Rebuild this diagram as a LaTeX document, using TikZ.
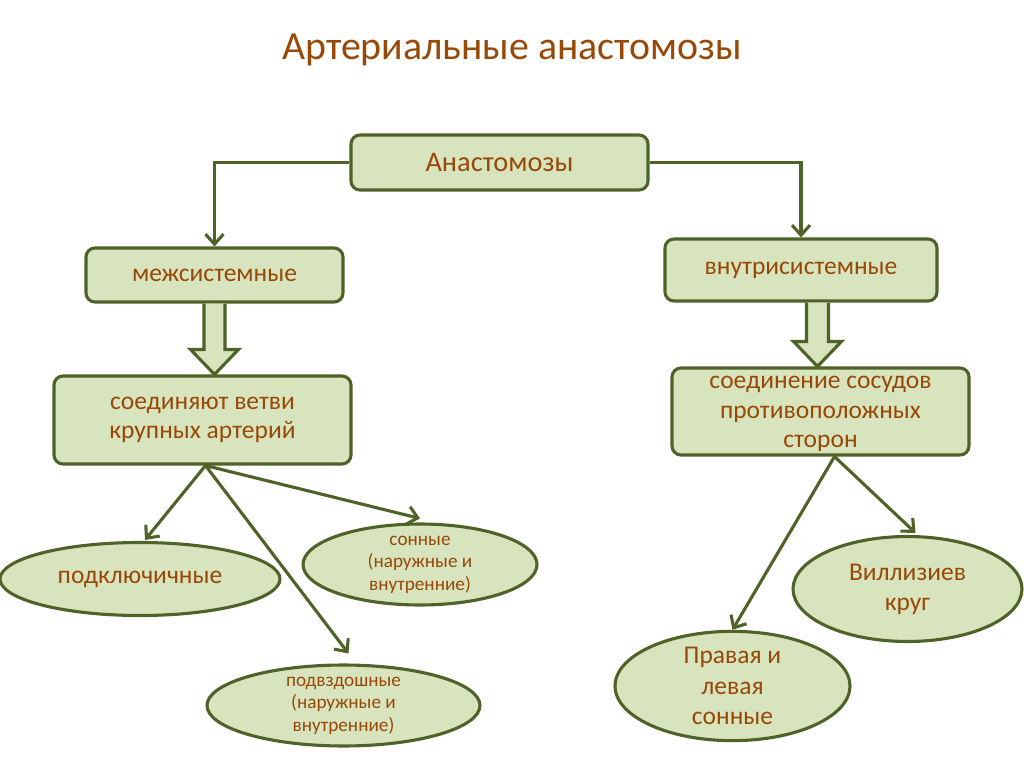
\documentclass[tikz,border=0pt]{standalone}
\usepackage{fontspec}
\setmainfont{Carlito}
\usetikzlibrary{arrows.meta,calc,shapes.geometric}
\definecolor{edge}{HTML}{4F6228}
\definecolor{fillg}{HTML}{D7E4BD}
\definecolor{txt}{HTML}{984807}
\tikzset{
  box/.style={draw=edge, fill=fillg, line width=3.1bp, rounded corners=9bp, inner sep=0pt, text=txt, align=center},
  ell/.style={draw=edge, fill=fillg, line width=3.1bp, ellipse, inner sep=0pt, text=txt, align=center},
  conn/.style={draw=edge, line width=3.1bp, -{Straight Barb[length=10bp,width=18bp,line width=3.1bp]}},
  blockarr/.style={draw=edge, fill=fillg, line width=3.1bp, line join=miter},
}
\begin{document}
\begin{tikzpicture}[x=1bp,y=-1bp]
\useasboundingbox (0,0) rectangle (1024,767);
\node[text=txt, font=\fontsize{40}{48}\selectfont] (title) at (512,50) {Артериальные анастомозы};

\node[box, minimum width=297bp, minimum height=55bp, font=\fontsize{28.5}{32}\selectfont] (anast) at (499.5,162.5) {Анастомозы};
\node[box, minimum width=257bp, minimum height=54bp, font=\fontsize{25.6}{30}\selectfont] (mezh) at (214.5,275) {\raisebox{-3bp}{межсистемные}};
\node[box, minimum width=272bp, minimum height=62bp, font=\fontsize{25.6}{30}\selectfont] (vnut) at (801,270) {\raisebox{-3bp}{внутрисистемные}};
\node[box, minimum width=297bp, minimum height=88bp, font=\fontsize{25.6}{29}\selectfont] (soedv) at (202.5,420) {соединяют ветви\\крупных артерий};
\node[box, minimum width=297bp, minimum height=87bp] (soeds) at (820.5,411.5) {};
\node[text=txt, align=center, font=\fontsize{25.6}{29.5}\selectfont] (soedstext) at (820.5,414) {соединение сосудов\\противоположных\\сторон};

\node[ell, minimum width=280bp, minimum height=73bp, font=\fontsize{25.6}{30}\selectfont] (podkl) at (140,579) {\raisebox{-2bp}{подключичные}};
\node[ell, minimum width=234bp, minimum height=73bp, font=\fontsize{19.3}{22.5}\selectfont] (sonn) at (420,564.5) {сонные\\(наружные и\\внутренние)};
\node[ell, minimum width=273bp, minimum height=80bp, font=\fontsize{19.3}{22.5}\selectfont] (podvz) at (343.5,705.5) {подвздошные\\(наружные и\\внутренние)};
\node[ell, minimum width=235bp, minimum height=106bp, font=\fontsize{25.6}{30.5}\selectfont] (prav) at (732.5,686) {Правая и\\левая\\сонные};
\node[ell, minimum width=229bp, minimum height=105bp, font=\fontsize{25.6}{30}\selectfont] (vill) at (907.5,589) {Виллизиев\\круг};

% top connectors
\draw[conn] (anast.west) -| (mezh.north);
\draw[conn] (anast.east) -| (vnut.north);

% block arrows
\coordinate (ltip) at (mezh.south |- soedv.north);
\draw[blockarr] ($(mezh.south)+(-10.5,0)$) -- ($(ltip)+(-10.5,-25)$) -- ($(ltip)+(-24,-25)$) -- (ltip) -- ($(ltip)+(24,-25)$) -- ($(ltip)+(10.5,-25)$) -- ($(mezh.south)+(10.5,0)$);
\coordinate (rtop) at ($(vnut.south)+(16.5,0)$);
\coordinate (rtip) at (rtop |- soeds.north);
\draw[blockarr] ($(rtop)+(-11,0)$) -- ($(rtip)+(-11,-25)$) -- ($(rtip)+(-24,-25)$) -- (rtip) -- ($(rtip)+(24,-25)$) -- ($(rtip)+(11,-25)$) -- ($(rtop)+(11,0)$);

% lower connectors
\coordinate (lo) at ($(soedv.south)+(3,0)$);
\draw[conn] (lo) -- ($(podkl.north)+(5,-1)$);
\draw[conn] (lo) -- ($(sonn.north)+(0,-4)$);
\draw[conn] (lo) -- ($(podvz.north)+(5,-10)$);
\coordinate (ro) at ($(soeds.south)+(14,0)$);
\draw[conn] (ro) -- (prav.north);
\draw[conn] (ro) -- ($(vill.north)+(8,-2)$);
\end{tikzpicture}
\end{document}
